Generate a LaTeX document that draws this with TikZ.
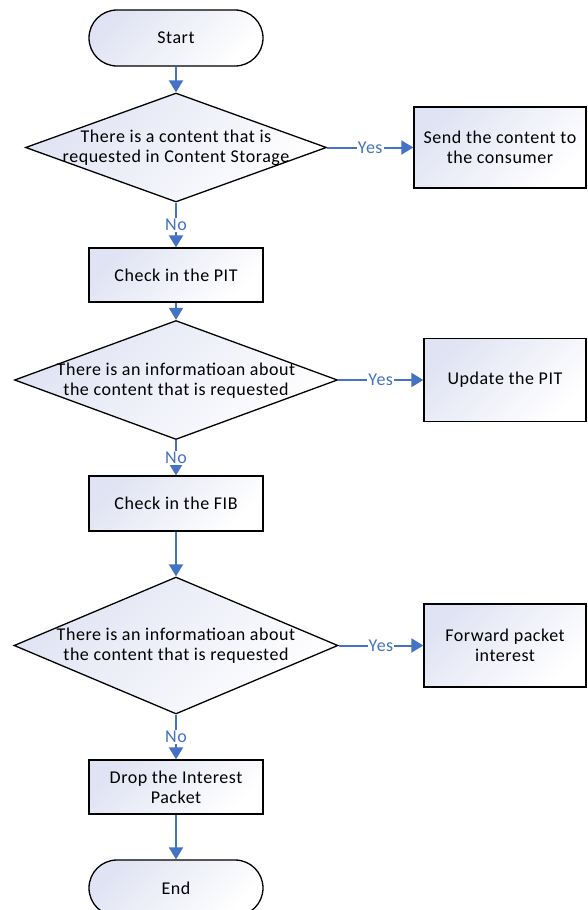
\documentclass[tikz,border=0pt]{standalone}
\usepackage{fontspec}
\setmainfont{Carlito}[LetterSpace=3.0]
\usetikzlibrary{shapes.geometric,arrows.meta}
\definecolor{lnblue}{RGB}{68,114,196}
\definecolor{shadec}{RGB}{224,227,243}
\begin{document}
\begin{tikzpicture}[x=1pt,y=-1pt,
  every node/.style={font=\fontsize{18pt}{20pt}\selectfont},
  shadebox/.style={draw=black,line width=1.3pt,top color=shadec,bottom color=white,shading angle=45},
  term/.style={shadebox,rectangle,rounded corners=28pt,minimum width=174pt,minimum height=56pt,inner sep=0pt},
  procbox/.style={shadebox,rectangle,minimum width=174pt,inner sep=0pt,align=center},
  dec/.style={shadebox,diamond,inner sep=0pt},
  txt/.style={align=center,inner sep=0pt},
  conn/.style={draw=lnblue,line width=2pt,-{Triangle[width=14pt,length=12pt]}},
  lbl/.style={text=lnblue,fill=white,inner sep=1pt}]
\useasboundingbox (0,0) rectangle (587,910);
\node[term] (start) at (176,38) {Start};
\node[dec,minimum width=301pt,minimum height=109pt] (d1) at (176,147.5) {};
\node[txt] (d1t) at (176,148) {There is a content that is\\requested in Content Storage};
\node[procbox,minimum width=172pt,minimum height=81pt] (send) at (500,147.5) {Send the content to\\the consumer};
\node[procbox,minimum height=54pt] (pit) at (176,275) {Check in the PIT};
\node[dec,minimum width=323pt,minimum height=119pt] (d2) at (176,380) {};
\node[txt] (d2t) at (176,381) {There is an informatioan about\\the content that is requested};
\node[procbox,minimum width=162pt,minimum height=83pt] (upd) at (505,380) {Update the PIT};
\node[procbox,minimum height=55pt] (fib) at (176,503.5) {Check in the FIB};
\node[dec,minimum width=324pt,minimum height=137pt] (d3) at (176,645.5) {};
\node[txt] (d3t) at (176,646) {There is an informatioan about\\the content that is requested};
\node[procbox,minimum width=162pt,minimum height=83pt] (fwd) at (505,645.5) {Forward packet\\interest};
\node[procbox,minimum height=54pt] (drop) at (176,787) {Drop the Interest\\Packet};
\node[term] (end) at (176,888) {End};
\draw[conn] (start) -- (d1);
\draw[conn] (d1) -- node[lbl] (no1) {No} (pit);
\draw[conn] (d1) -- node[lbl] (yes1) {Yes} (send);
\draw[conn] (pit) -- (d2);
\draw[conn] (d2) -- node[lbl] (no2) {No} (fib);
\draw[conn] (d2) -- node[lbl] (yes2) {Yes} (upd);
\draw[conn] (fib) -- (d3);
\draw[conn] (d3) -- node[lbl] (no3) {No} (drop);
\draw[conn] (d3) -- node[lbl] (yes3) {Yes} (fwd);
\draw[conn] (drop) -- (end);
\end{tikzpicture}
\end{document}
